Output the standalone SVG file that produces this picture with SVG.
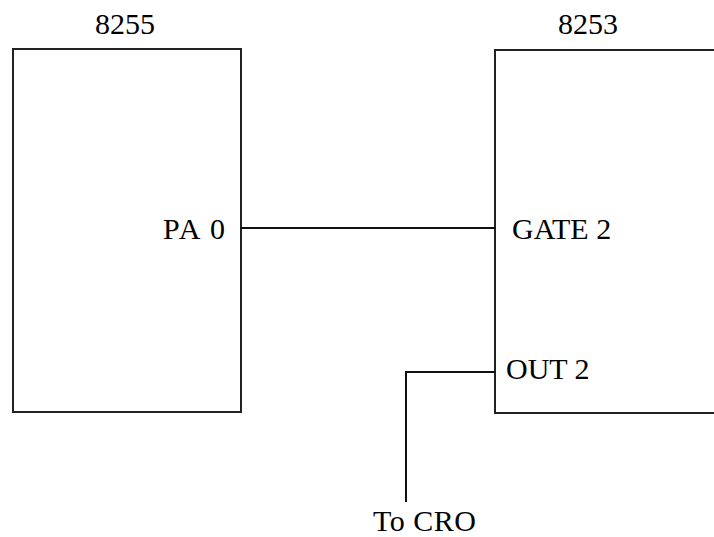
<svg xmlns="http://www.w3.org/2000/svg" width="714" height="537" viewBox="0 0 714 537">
<style>
.box{fill:#fff;stroke:#222;stroke-width:2}
.wire{fill:none;stroke:#111;stroke-width:2}
text{font-family:"Liberation Serif","Times New Roman",serif;font-size:30px;fill:#000}
</style>
<rect width="714" height="537" fill="#fff"/>
<g id="node-8255">
<rect class="box" x="13" y="49" width="228" height="363"/>
<text x="125" y="34" text-anchor="middle">8255</text>
<text x="163" y="239" textLength="62">PA 0</text>
</g>
<g id="node-8253">
<rect class="box" x="495" y="50" width="240" height="363"/>
<text x="588" y="34" text-anchor="middle">8253</text>
<text x="512" y="239">GATE 2</text>
<text x="506" y="379">OUT 2</text>
</g>
<g id="node-cro">
<text x="373" y="531" textLength="103">To CRO</text>
</g>
<g id="connectors">
<line class="wire" x1="241" y1="228" x2="495" y2="228"/>
<polyline class="wire" points="495,372 406,372 406,502"/>
</g>
</svg>
